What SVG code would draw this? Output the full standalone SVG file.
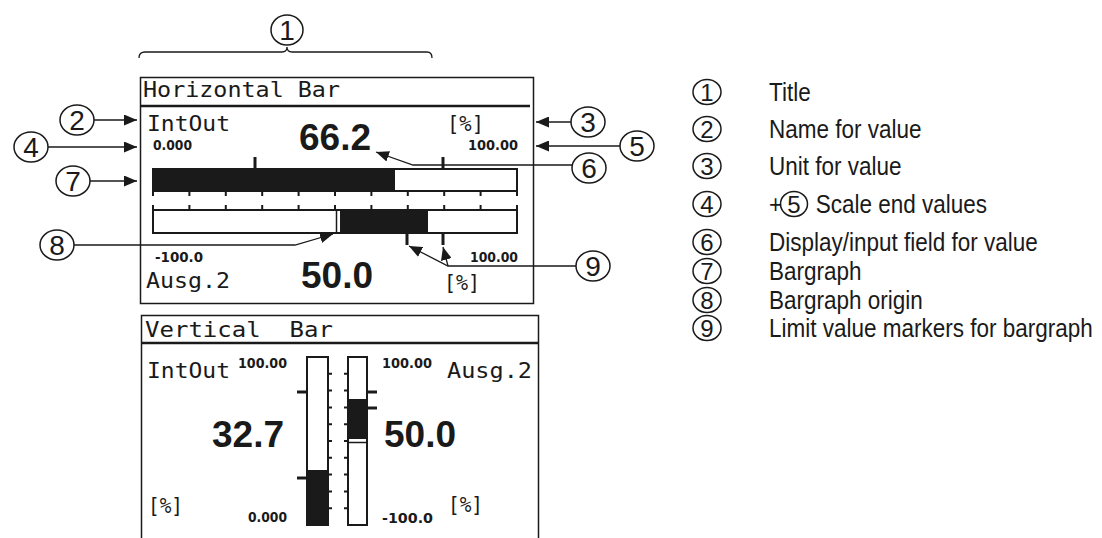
<svg xmlns="http://www.w3.org/2000/svg" width="1102" height="538" viewBox="0 0 1102 538">
<defs>
<style>
.lcd{font-family:"DejaVu Sans Mono","Liberation Mono",monospace;font-size:22px;fill:#1a1a1a}
.num{font-family:"DejaVu Sans","Liberation Sans",sans-serif;font-weight:bold;font-size:14px;fill:#1a1a1a}
.big{font-family:"Liberation Sans",Arial,sans-serif;font-weight:bold;font-size:37px;fill:#1a1a1a}
.leg{font-family:"Liberation Sans",Arial,sans-serif;font-size:25px;fill:#1a1a1a}
.cd{font-family:"Liberation Sans",Arial,sans-serif;font-size:28px;fill:#1a1a1a;text-anchor:middle}
.cds{font-family:"Liberation Sans",Arial,sans-serif;font-size:24px;fill:#1a1a1a;text-anchor:middle}
.circ{fill:none;stroke:#1a1a1a;stroke-width:1.5}
.frame{fill:none;stroke:#1a1a1a;stroke-width:1.5}
.bar{fill:#fff;stroke:#1a1a1a;stroke-width:2}
.fill{fill:#1a1a1a}
.tick{stroke:#1a1a1a;stroke-width:2}
.mk{stroke:#1a1a1a;stroke-width:3}
.ld{fill:none;stroke:#1a1a1a;stroke-width:1.3}
</style>
<marker id="ah" markerWidth="13" markerHeight="11" refX="13" refY="5.5" orient="auto" markerUnits="userSpaceOnUse"><path d="M0,0 L13,5.5 L0,11 z" fill="#1a1a1a"/></marker>
</defs>
<rect width="1102" height="538" fill="#fff"/>

<g id="title-bracket">
<path class="ld" d="M139,58 Q139,52 145,52 L282,52 Q287,52 287,47 Q287,52 292,52 L427,52 Q432,52 432,58"/>
</g>

<g id="horizontal-panel">
<rect class="frame" x="140.5" y="77.5" width="393" height="226"/>
<line x1="141" y1="106" x2="530" y2="106" stroke="#1a1a1a" stroke-width="2.5"/>
<text class="lcd" x="143" y="97" textLength="197" lengthAdjust="spacingAndGlyphs">Horizontal Bar</text>
<text class="lcd" x="147" y="131" textLength="83" lengthAdjust="spacingAndGlyphs">IntOut</text>
<text class="lcd" x="447" y="131" textLength="37" lengthAdjust="spacingAndGlyphs">[%]</text>
<text class="num" x="153" y="150" textLength="39" lengthAdjust="spacingAndGlyphs">0.000</text>
<text class="num" x="468" y="150" textLength="50" lengthAdjust="spacingAndGlyphs">100.00</text>
<text class="big" x="299" y="150">66.2</text>
<rect class="bar" x="153" y="169" width="364" height="22"/>
<rect class="fill" x="153" y="169" width="242" height="22"/>
<line class="mk" x1="255" y1="157" x2="255" y2="169"/>
<line class="mk" x1="443" y1="157" x2="443" y2="169"/>
<path class="tick" d="M153,191v5M189.4,191v5M225.8,191v5M262.2,191v5M298.6,191v5M335,191v5M371.4,191v5M407.8,191v5M444.2,191v5M480.6,191v5M517,191v5"/>
<path class="tick" d="M153,205v5M189.4,205v5M225.8,205v5M262.2,205v5M298.6,205v5M335,205v5M371.4,205v5M407.8,205v5M444.2,205v5M480.6,205v5M517,205v5"/>
<rect class="bar" x="153" y="210" width="364" height="23"/>
<rect class="fill" x="340" y="210" width="88" height="23"/>
<line x1="336.5" y1="210" x2="336.5" y2="233" stroke="#1a1a1a" stroke-width="1.5"/>
<line class="mk" x1="407" y1="233" x2="407" y2="245"/>
<line class="mk" x1="443" y1="233" x2="443" y2="245"/>
<text class="num" x="155" y="262" textLength="48" lengthAdjust="spacingAndGlyphs">-100.0</text>
<text class="num" x="470" y="262" textLength="48" lengthAdjust="spacingAndGlyphs">100.00</text>
<text class="lcd" x="146" y="288" textLength="84" lengthAdjust="spacingAndGlyphs">Ausg.2</text>
<text class="big" x="301" y="288" font-size="36">50.0</text>
<text class="lcd" x="444" y="290" textLength="36" lengthAdjust="spacingAndGlyphs">[%]</text>
</g>

<g id="vertical-panel">
<path class="frame" d="M141.5,538V315.5H538.5V538"/>
<line x1="142" y1="343" x2="538" y2="343" stroke="#1a1a1a" stroke-width="2.5"/>
<text class="lcd" x="145" y="337" textLength="188" lengthAdjust="spacingAndGlyphs" xml:space="preserve">Vertical  Bar</text>
<text class="lcd" x="147" y="378" textLength="83" lengthAdjust="spacingAndGlyphs">IntOut</text>
<text class="lcd" x="447" y="378" textLength="85" lengthAdjust="spacingAndGlyphs">Ausg.2</text>
<text class="num" x="238" y="368" textLength="49" lengthAdjust="spacingAndGlyphs">100.00</text>
<text class="num" x="382" y="368" textLength="50" lengthAdjust="spacingAndGlyphs">100.00</text>
<text class="big" x="212" y="447" font-size="36">32.7</text>
<text class="big" x="384" y="447" font-size="36">50.0</text>
<text class="lcd" x="148" y="513" textLength="35" lengthAdjust="spacingAndGlyphs">[%]</text>
<text class="lcd" x="448" y="512" textLength="35" lengthAdjust="spacingAndGlyphs">[%]</text>
<text class="num" x="248" y="522" textLength="39" lengthAdjust="spacingAndGlyphs">0.000</text>
<text class="num" x="382" y="523" textLength="51" lengthAdjust="spacingAndGlyphs">-100.0</text>
<rect class="bar" x="307" y="357" width="21" height="168"/>
<rect class="fill" x="307" y="470" width="21" height="55"/>
<path class="tick" d="M328,373.8h4M328,390.6h4M328,407.4h4M328,424.2h4M328,441h4M328,457.8h4M328,474.6h4M328,491.4h4M328,508.2h4"/>
<line class="mk" x1="297" y1="392" x2="307" y2="392"/>
<line class="mk" x1="297" y1="478" x2="307" y2="478"/>
<rect class="bar" x="348" y="357" width="19" height="168"/>
<rect class="fill" x="348" y="399" width="19" height="40"/>
<line x1="348" y1="442.5" x2="367" y2="442.5" stroke="#1a1a1a" stroke-width="1.5"/>
<path class="tick" d="M344,373.8h4M344,390.6h4M344,407.4h4M344,424.2h4M344,441h4M344,457.8h4M344,474.6h4M344,491.4h4M344,508.2h4"/>
<line class="mk" x1="367" y1="392" x2="377" y2="392"/>
<line class="mk" x1="367" y1="408" x2="377" y2="408"/>
</g>

<g id="callouts">
<g id="c1"><ellipse class="circ" cx="287" cy="30" rx="16" ry="15"/><text class="cd" x="287" y="40">1</text></g>
<g id="c2"><ellipse class="circ" cx="77" cy="120" rx="17" ry="15"/><text class="cd" x="77" y="130">2</text></g>
<g id="c4"><ellipse class="circ" cx="31" cy="147" rx="17" ry="15"/><text class="cd" x="31" y="157">4</text></g>
<g id="c7"><ellipse class="circ" cx="73" cy="181" rx="17" ry="15"/><text class="cd" x="73" y="191">7</text></g>
<g id="c8"><ellipse class="circ" cx="57" cy="245" rx="17" ry="15"/><text class="cd" x="57" y="255">8</text></g>
<g id="c3"><ellipse class="circ" cx="588" cy="122" rx="17" ry="15"/><text class="cd" x="588" y="132">3</text></g>
<g id="c5"><ellipse class="circ" cx="637" cy="146" rx="17" ry="15"/><text class="cd" x="637" y="156">5</text></g>
<g id="c6"><ellipse class="circ" cx="589" cy="168" rx="17" ry="15"/><text class="cd" x="589" y="178">6</text></g>
<g id="c9"><ellipse class="circ" cx="593" cy="266" rx="17" ry="15"/><text class="cd" x="593" y="276">9</text></g>
</g>

<g id="connectors">
<line class="ld" x1="94" y1="120" x2="137" y2="120" marker-end="url(#ah)"/>
<line class="ld" x1="48" y1="147" x2="137" y2="147" marker-end="url(#ah)"/>
<line class="ld" x1="90" y1="181" x2="137" y2="181" marker-end="url(#ah)"/>
<polyline class="ld" points="74,245 295,245 333,234" marker-end="url(#ah)"/>
<line class="ld" x1="571" y1="122" x2="536" y2="122" marker-end="url(#ah)"/>
<line class="ld" x1="620" y1="146" x2="536" y2="146" marker-end="url(#ah)"/>
<polyline class="ld" points="572,165 413,165 376,152" marker-end="url(#ah)"/>
<polyline class="ld" points="576,266 448,266 409,246" marker-end="url(#ah)"/>
<line class="ld" x1="448" y1="266" x2="443" y2="247" marker-end="url(#ah)"/>
</g>

<g id="legend">
<g id="l1"><ellipse class="circ" cx="707" cy="92" rx="14" ry="12.5"/><text class="cds" x="707" y="101">1</text></g>
<g id="l2"><ellipse class="circ" cx="707" cy="129" rx="14" ry="12.5"/><text class="cds" x="707" y="138">2</text></g>
<g id="l3"><ellipse class="circ" cx="707" cy="166" rx="14" ry="12.5"/><text class="cds" x="707" y="175">3</text></g>
<g id="l4"><ellipse class="circ" cx="707" cy="204" rx="14" ry="12.5"/><text class="cds" x="707" y="213">4</text></g>
<g id="l5"><ellipse class="circ" cx="794" cy="204" rx="13.5" ry="12.5"/><text class="cds" x="794" y="213">5</text></g>
<g id="l6"><ellipse class="circ" cx="707" cy="242" rx="14" ry="12.5"/><text class="cds" x="707" y="251">6</text></g>
<g id="l7"><ellipse class="circ" cx="707" cy="271" rx="14" ry="12.5"/><text class="cds" x="707" y="280">7</text></g>
<g id="l8"><ellipse class="circ" cx="707" cy="300" rx="14" ry="12.5"/><text class="cds" x="707" y="309">8</text></g>
<g id="l9"><ellipse class="circ" cx="707" cy="328" rx="14" ry="12.5"/><text class="cds" x="707" y="337">9</text></g>
<g transform="translate(769 0) scale(0.9 1)">
<text class="leg" x="0" y="101">Title</text>
<text class="leg" x="0" y="138">Name for value</text>
<text class="leg" x="0" y="175">Unit for value</text>
<text class="leg" x="0" y="213">+</text>
<text class="leg" x="52" y="213">Scale end values</text>
<text class="leg" x="0" y="251">Display/input field for value</text>
<text class="leg" x="0" y="280">Bargraph</text>
<text class="leg" x="0" y="309">Bargraph origin</text>
<text class="leg" x="0" y="337">Limit value markers for bargraph</text>
</g>
</g>
</svg>
